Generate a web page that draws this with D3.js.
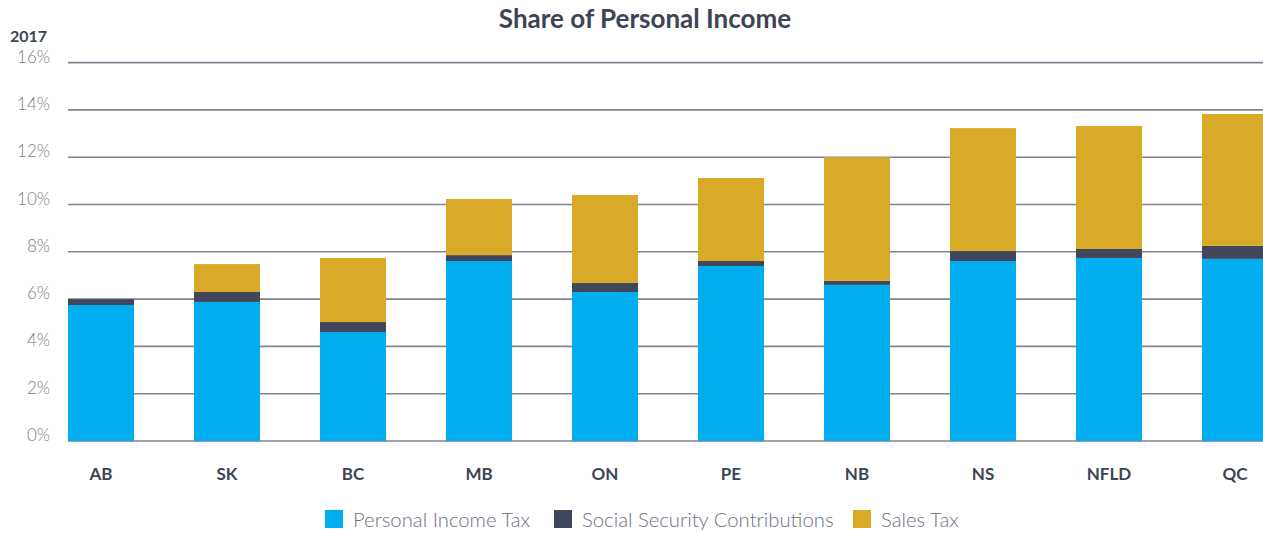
<!DOCTYPE html>
<html>
<head>
<meta charset="utf-8">
<script src="https://cdn.jsdelivr.net/npm/d3@7"></script>
<style>
  html, body { margin: 0; padding: 0; background: #fff; }
  svg { display: block; }
</style>
</head>
<body>
<svg id="chart" width="1263" height="533"></svg>
<script>
const categories = ["AB", "SK", "BC", "MB", "ON", "PE", "NB", "NS", "NFLD", "QC"];
const personalIncomeTax = [5.75, 5.88, 4.61, 7.61, 6.30, 7.40, 6.60, 7.61, 7.74, 7.70];
const socialSecurity    = [0.25, 0.42, 0.42, 0.25, 0.38, 0.21, 0.17, 0.42, 0.38, 0.55];
const salesTax          = [0.00, 1.18, 2.71, 2.37, 3.72, 3.51, 5.23, 5.20, 5.20, 5.58];
const yTicks = [0, 2, 4, 6, 8, 10, 12, 14, 16];
const seriesNames = ["Personal Income Tax", "Social Security Contributions", "Sales Tax"];
const colors = ["#00AEEF", "#41475A", "#D9A928"];

const rows = categories.map((c, i) => ({
  cat: c,
  "Personal Income Tax": personalIncomeTax[i],
  "Social Security Contributions": socialSecurity[i],
  "Sales Tax": salesTax[i]
}));

const svg = d3.select("#chart");
const x = d3.scaleBand().domain(categories).range([38, 1298])
  .paddingInner(60 / 126).paddingOuter(30 / 126);
const y = d3.scaleLinear().domain([0, 16]).range([441, 62.6]);

// gridlines
svg.append("g").selectAll("line").data(yTicks).join("line")
  .attr("x1", 68).attr("x2", 1263)
  .attr("y1", d => y(d)).attr("y2", d => y(d))
  .attr("stroke", "#7e8391").attr("stroke-width", 1.6);

// y labels
svg.append("g").selectAll("text").data(yTicks).join("text")
  .attr("x", 50).attr("y", d => y(d))
  .attr("text-anchor", "end")
  .attr("font-family", "Lato, sans-serif").attr("font-weight", 300)
  .attr("font-size", 17).attr("fill", "#7b808b")
  .text(d => d + "%");

svg.append("text").attr("x", 10).attr("y", 42)
  .attr("font-family", "Lato, sans-serif").attr("font-weight", 700)
  .attr("font-size", 16).attr("fill", "#3d4454").text("2017");

// title
svg.append("text").attr("x", 645).attr("y", 28).attr("text-anchor", "middle")
  .attr("font-family", "Lato, sans-serif").attr("font-weight", 700)
  .attr("font-size", 26).attr("fill", "#3d4454").text("Share of Personal Income");

// stacked bars
const stack = d3.stack().keys(seriesNames)(rows);
svg.append("g").selectAll("g").data(stack).join("g")
  .attr("fill", (d, i) => colors[i])
  .selectAll("rect").data(d => d).join("rect")
  .attr("x", d => x(d.data.cat))
  .attr("width", x.bandwidth())
  .attr("y", d => y(d[1]))
  .attr("height", d => y(d[0]) - y(d[1]));

// x labels
const xAxis = d3.axisBottom(x).tickSize(0).tickPadding(0);
const gx = svg.append("g").attr("transform", "translate(0,480)").call(xAxis);
gx.select(".domain").remove();
gx.selectAll("text")
  .attr("dy", "0")
  .attr("font-family", "Lato, sans-serif").attr("font-weight", 700)
  .attr("font-size", 17).attr("fill", "#3d4454");

// legend
const legendX = [325, 554, 853];
const lg = svg.append("g").selectAll("g").data(seriesNames).join("g")
  .attr("transform", (d, i) => `translate(${legendX[i]},510)`);
lg.append("rect").attr("width", 18).attr("height", 18).attr("fill", (d, i) => colors[i]);
lg.append("text").attr("x", 28).attr("y", 17)
  .attr("font-family", "Lato, sans-serif").attr("font-weight", 300)
  .attr("font-size", 20.3).attr("fill", "#6c7180")
  .text(d => d);
</script>
</body>
</html>
